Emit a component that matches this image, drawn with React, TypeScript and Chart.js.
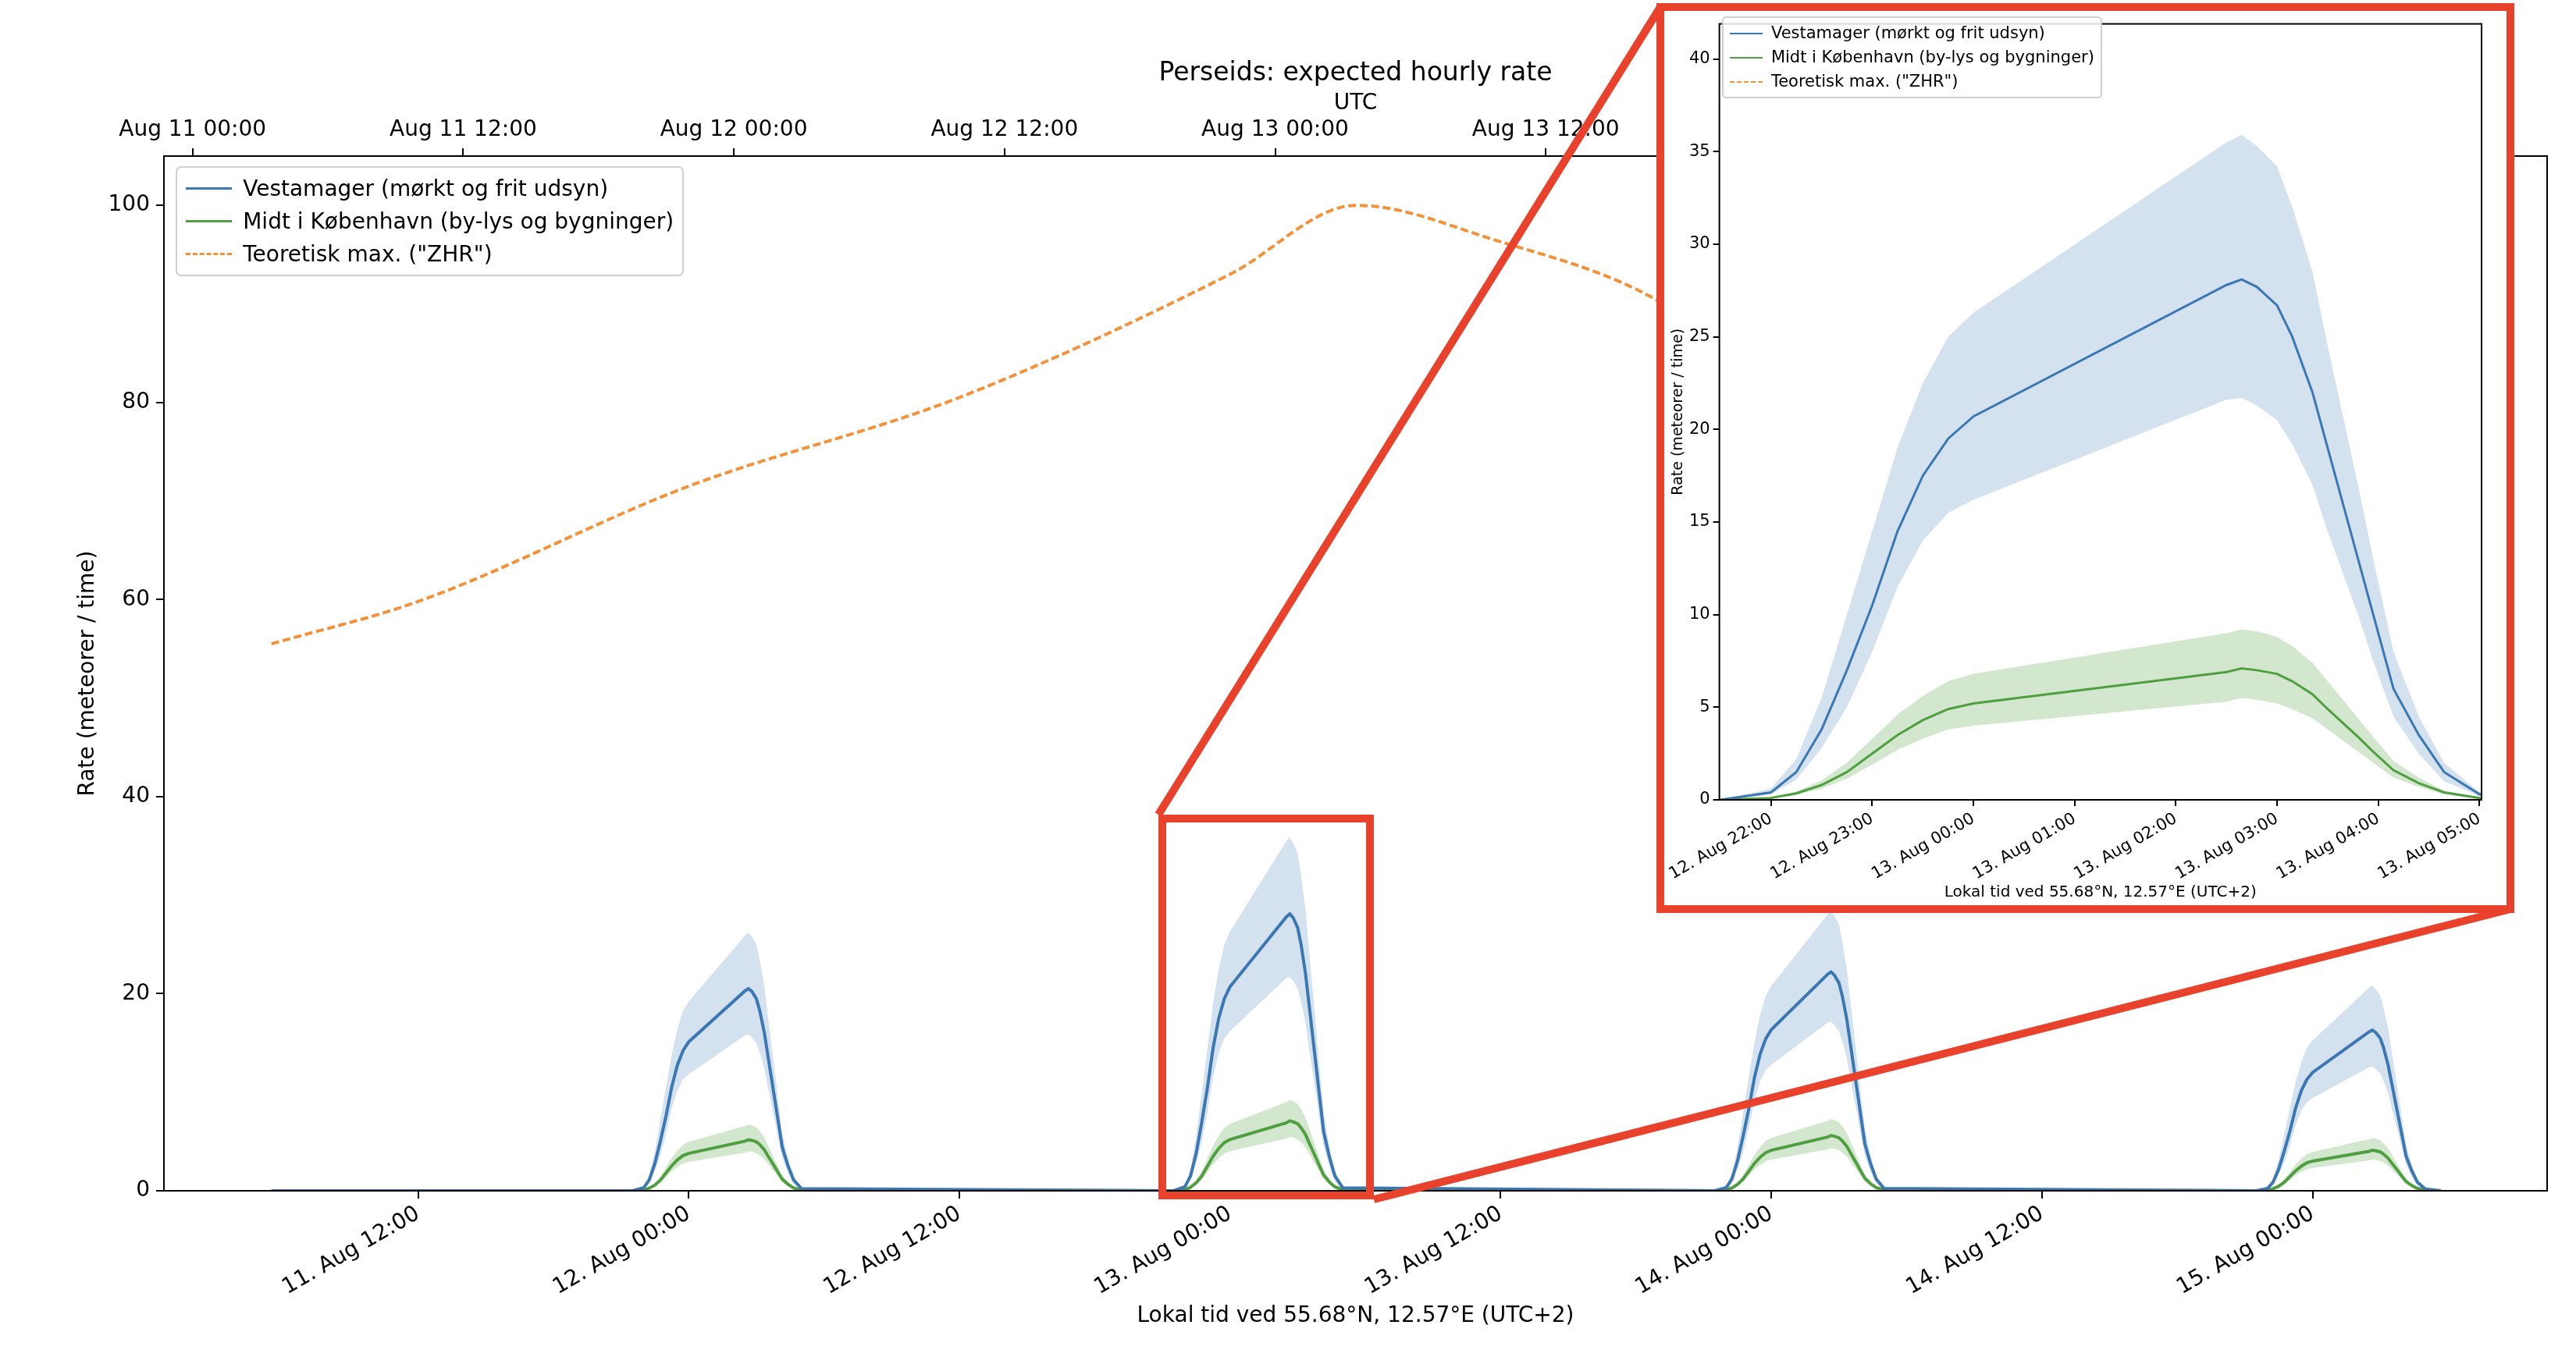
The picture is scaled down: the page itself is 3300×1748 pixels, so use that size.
import React, { useEffect, useRef } from "react";
import { Chart, registerables } from "chart.js";
Chart.register(...registerables);

// hours since 11 Aug 00:00 local time (UTC+2)
const nightStarts = [22, 46, 70, 94];
const nightScale = [0.73, 1.0, 0.79, 0.58];
const profileOffsets = [-0.5, 0, 0.25, 0.5, 0.75, 1, 1.25, 1.5, 1.75, 2, 4.5, 4.65, 4.8, 5, 5.15, 5.35, 5.5, 5.8, 5.95, 6.15, 6.4, 6.65, 7];
const vestMean = [0, 0.4, 1.5, 3.8, 7, 10.5, 14.5, 17.5, 19.5, 20.7, 27.8, 28.1, 27.7, 26.7, 25, 22, 19, 13, 10, 6, 3.5, 1.5, 0.3];
const vestHigh = [0, 0.6, 2.2, 5.5, 10, 14.5, 19, 22.5, 25, 26.3, 35.5, 35.9, 35.3, 34.2, 32, 28.5, 24.5, 17, 13, 8, 4.5, 2, 0.4];
const vestLow = [0, 0.3, 1.1, 2.8, 5, 8, 11.5, 14, 15.5, 16.2, 21.6, 21.7, 21.3, 20.5, 19.2, 17, 14.5, 10, 7.5, 4.5, 2.5, 1, 0.2];
const kbhMean = [0, 0.1, 0.35, 0.8, 1.5, 2.5, 3.5, 4.3, 4.9, 5.2, 6.9, 7.1, 7.0, 6.8, 6.4, 5.7, 4.9, 3.4, 2.6, 1.6, 0.9, 0.4, 0.1];
const kbhHigh = [0, 0.15, 0.45, 1.05, 2.0, 3.3, 4.6, 5.6, 6.4, 6.8, 9.0, 9.2, 9.1, 8.8, 8.3, 7.4, 6.4, 4.4, 3.4, 2.1, 1.2, 0.5, 0.15];
const kbhLow = [0, 0.08, 0.27, 0.6, 1.15, 1.9, 2.7, 3.3, 3.8, 4.0, 5.3, 5.5, 5.4, 5.2, 4.9, 4.4, 3.8, 2.6, 2.0, 1.2, 0.7, 0.3, 0.08];
const zhrHours = [5.5, 12, 24, 36, 48, 53.6, 60, 66, 72, 84, 96, 101.7];
const zhrValues = [55.5, 59.8, 71.5, 80.5, 93, 100, 96.3, 91.5, 83, 72, 62, 58];
const bottomTicks = [12, 24, 36, 48, 60, 72, 84, 96];
const topTicks = [2, 14, 26, 38, 50, 62, 74, 86, 98];
const insetTicks = [46, 47, 48, 49, 50, 51, 52, 53];
const yTicksMain = [0, 20, 40, 60, 80, 100];
const yTicksInset = [0, 5, 10, 15, 20, 25, 30, 35, 40];

const BLUE = "#3b78b2";
const GREEN = "#4f9e3f";
const ORANGE = "#f59138";
const RED = "#e8412c";
const FONT = "DejaVu Sans";

function series(vals: number[], nights: number[]) {
  const pts: { x: number; y: number }[] = [{ x: 5.5, y: 0 }];
  nights.forEach((ni) => {
    profileOffsets.forEach((o, i) => pts.push({ x: nightStarts[ni] + o, y: vals[i] * nightScale[ni] }));
  });
  pts.push({ x: 101.7, y: 0 });
  return pts;
}
const pad2 = (n: number) => String(n).padStart(2, "0");
const localLabel = (h: number) => `${11 + Math.floor(h / 24)}. Aug ${pad2(((h % 24) + 24) % 24)}:00`;
const utcLabel = (h: number) => {
  const u = h - 2;
  return `Aug ${11 + Math.floor(u / 24)} ${pad2(((u % 24) + 24) % 24)}:00`;
};

function datasets(nights: number[], lw: number) {
  return [
    { data: series(vestLow, nights), borderWidth: 0, pointRadius: 0, fill: false, borderColor: "transparent" },
    { data: series(vestHigh, nights), borderWidth: 0, pointRadius: 0, fill: "-1", backgroundColor: "rgba(59,120,178,0.22)", borderColor: "transparent" },
    { data: series(kbhLow, nights), borderWidth: 0, pointRadius: 0, fill: false, borderColor: "transparent" },
    { data: series(kbhHigh, nights), borderWidth: 0, pointRadius: 0, fill: "-1", backgroundColor: "rgba(79,158,63,0.25)", borderColor: "transparent" },
    { data: zhrHours.map((x, i) => ({ x, y: zhrValues[i] })), borderColor: ORANGE, borderWidth: lw, borderDash: [lw * 2.5, lw * 1.2], pointRadius: 0, fill: false, cubicInterpolationMode: "monotone" },
    { data: series(vestMean, nights), borderColor: BLUE, borderWidth: lw, pointRadius: 0, fill: false },
    { data: series(kbhMean, nights), borderColor: GREEN, borderWidth: lw, pointRadius: 0, fill: false },
  ];
}

const framePlugin = {
  id: "frame",
  afterDraw(c: any) {
    const a = c.chartArea;
    const ctx = c.ctx;
    ctx.save();
    ctx.strokeStyle = "#000";
    ctx.lineWidth = 2;
    ctx.strokeRect(a.left, a.top, a.right - a.left, a.bottom - a.top);
    ctx.restore();
  },
  beforeDraw(c: any) {
    const ctx = c.ctx;
    ctx.save();
    ctx.fillStyle = "#fff";
    ctx.fillRect(0, 0, c.width, c.height);
    ctx.restore();
  },
};

function grid(len: number) {
  return { display: true, drawOnChartArea: false, drawTicks: true, tickLength: len, color: "#000", lineWidth: 2 };
}

function Legend({ left, top, fs, w, rowH }: any) {
  const items = [
    { c: BLUE, t: "Vestamager (mørkt og frit udsyn)", dash: false },
    { c: GREEN, t: "Midt i København (by-lys og bygninger)", dash: false },
    { c: ORANGE, t: 'Teoretisk max. ("ZHR")', dash: true },
  ];
  return (
    <div style={{ position: "absolute", left, top, background: "rgba(255,255,255,0.85)", border: "2px solid #d0d0d0", borderRadius: fs * 0.25, padding: `${fs * 0.2}px ${fs * 0.4}px`, fontFamily: FONT, fontSize: fs, lineHeight: `${rowH}px`, whiteSpace: "nowrap" }}>
      {items.map((it) => (
        <div key={it.t} style={{ display: "flex", alignItems: "center" }}>
          <div style={{ width: w, marginRight: fs * 0.5, borderTop: `${Math.max(2, fs / 9)}px ${it.dash ? "dashed" : "solid"} ${it.c}` }} />
          <span>{it.t}</span>
        </div>
      ))}
    </div>
  );
}

export default function App() {
  const mainRef = useRef<HTMLCanvasElement>(null);
  const insetRef = useRef<HTMLCanvasElement>(null);
  useEffect(() => {
    const main = new Chart(mainRef.current!, {
      type: "line",
      data: { datasets: datasets([0, 1, 2, 3], 4) as any },
      plugins: [framePlugin],
      options: {
        animation: false, responsive: false, devicePixelRatio: 1,
        layout: { padding: { left: 0, right: 37, top: 0, bottom: 0 } },
        plugins: { legend: { display: false }, tooltip: { enabled: false } },
        scales: {
          x: {
            type: "linear", position: "bottom", min: 0.73, max: 106.4,
            afterFit: (s: any) => { s.height = 222; },
            afterBuildTicks: (s: any) => { s.ticks = bottomTicks.map((v) => ({ value: v })); },
            ticks: { autoSkip: false, minRotation: 30, maxRotation: 30, color: "#000", font: { family: FONT, size: 28 }, callback: (v: any) => localLabel(Number(v)) },
            grid: grid(10), border: { display: false },
            title: { display: true, text: "Lokal tid ved 55.68°N, 12.57°E (UTC+2)", color: "#000", font: { family: FONT, size: 28 }, padding: { top: 0, bottom: 44 } },
          },
          x2: {
            type: "linear", position: "top", min: 0.73, max: 106.4,
            afterFit: (s: any) => { s.height = 200; },
            afterBuildTicks: (s: any) => { s.ticks = topTicks.map((v) => ({ value: v })); },
            ticks: { autoSkip: false, maxRotation: 0, color: "#000", font: { family: FONT, size: 28 }, padding: 6, callback: (v: any) => utcLabel(Number(v)) },
            grid: grid(10), border: { display: false },
          },
          y: {
            min: 0, max: 105,
            afterFit: (s: any) => { s.width = 210; },
            afterBuildTicks: (s: any) => { s.ticks = yTicksMain.map((v) => ({ value: v })); },
            ticks: { color: "#000", font: { family: FONT, size: 28 }, padding: 8 },
            grid: grid(10), border: { display: false },
            title: { display: true, text: "Rate (meteorer / time)", color: "#000", font: { family: FONT, size: 28 }, padding: { top: 96, bottom: 0 } },
          },
        },
      } as any,
    });
    const inset = new Chart(insetRef.current!, {
      type: "line",
      data: { datasets: datasets([1], 3) as any },
      plugins: [framePlugin],
      options: {
        animation: false, responsive: false, devicePixelRatio: 1,
        layout: { padding: { left: 0, right: 32, top: 3, bottom: 0 } },
        plugins: { legend: { display: false }, tooltip: { enabled: false } },
        scales: {
          x: {
            type: "linear", min: 45.49, max: 53.02,
            afterFit: (s: any) => { s.height = 135; },
            afterBuildTicks: (s: any) => { s.ticks = insetTicks.map((v) => ({ value: v })); },
            ticks: { autoSkip: false, minRotation: 30, maxRotation: 30, color: "#000", font: { family: FONT, size: 21 }, padding: 4, callback: (v: any) => localLabel(Number(v)) },
            grid: grid(8), border: { display: false },
            title: { display: true, text: "Lokal tid ved 55.68°N, 12.57°E (UTC+2)", color: "#000", font: { family: FONT, size: 20 }, padding: { top: 0, bottom: 4 } },
          },
          y: {
            min: 0, max: 41.9,
            afterFit: (s: any) => { s.width = 64; },
            afterBuildTicks: (s: any) => { s.ticks = yTicksInset.map((v) => ({ value: v })); },
            ticks: { color: "#000", font: { family: FONT, size: 21 }, padding: 4 },
            grid: grid(8), border: { display: false },
            title: { display: true, text: "Rate (meteorer / time)", color: "#000", font: { family: FONT, size: 19 }, padding: { top: 0, bottom: 0 } },
          },
        },
      } as any,
    });
    return () => { main.destroy(); inset.destroy(); };
  }, []);

  return (
    <div style={{ position: "absolute", left: 0, top: 0, width: 3300, height: 1748, background: "#fff", overflow: "hidden" }}>
      <canvas ref={mainRef} width={3300} height={1748} style={{ position: "absolute", left: 0, top: 0 }} />
      <div style={{ position: "absolute", left: 0, width: 3473, top: 72, textAlign: "center", fontFamily: FONT, fontSize: 33 }}>Perseids: expected hourly rate</div>
      <div style={{ position: "absolute", left: 0, width: 3473, top: 114, textAlign: "center", fontFamily: FONT, fontSize: 28 }}>UTC</div>
      <Legend left={225} top={213} fs={28} w={59} rowH={42} />
      <svg width={3300} height={1748} style={{ position: "absolute", left: 0, top: 0 }}>
        <rect x={1489} y={1049} width={266} height={483} fill="none" stroke={RED} strokeWidth={10} />
        <line x1={1484} y1={1044} x2={2127} y2={9} stroke={RED} strokeWidth={10} />
        <line x1={1760} y1={1537} x2={3216} y2={1165} stroke={RED} strokeWidth={10} />
      </svg>
      <div style={{ position: "absolute", left: 2122, top: 4, width: 1099, height: 1166, boxSizing: "border-box", border: `10px solid ${RED}`, background: "#fff" }}>
        <canvas ref={insetRef} width={1079} height={1146} style={{ position: "absolute", left: 0, top: 0 }} />
        <Legend left={74} top={7} fs={21} w={42} rowH={31} />
      </div>
    </div>
  );
}
